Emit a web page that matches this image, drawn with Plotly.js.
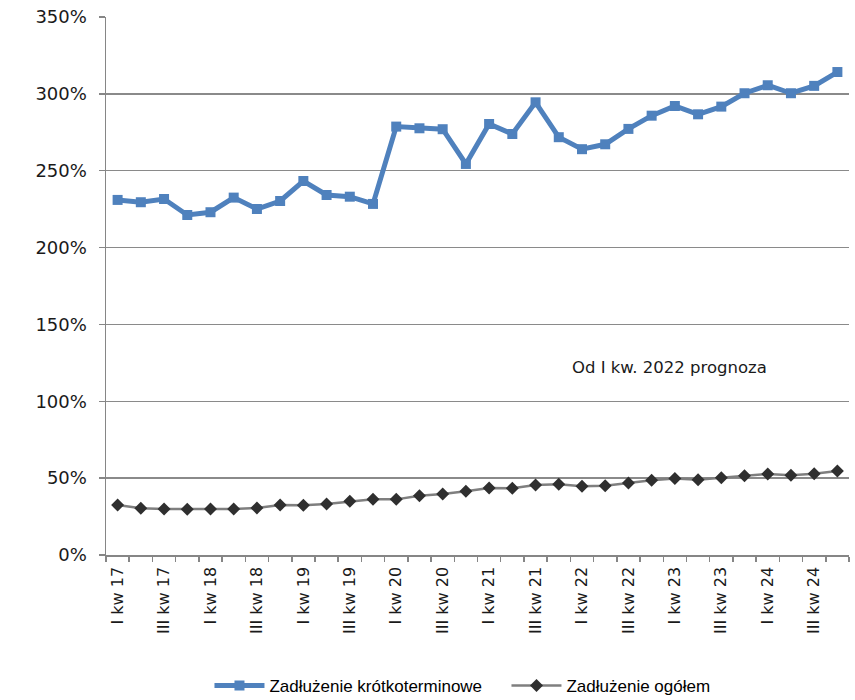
<!DOCTYPE html>
<html>
<head>
<meta charset="utf-8">
<script src="https://cdn.plot.ly/plotly-3.0.1.min.js"></script>
<style>html,body{margin:0;padding:0;background:#fff;}#chart{width:855px;height:700px;}</style>
</head>
<body>
<div id="chart"></div>
<script>
const quarters = [
  "I kw 17","II kw 17","III kw 17","IV kw 17",
  "I kw 18","II kw 18","III kw 18","IV kw 18",
  "I kw 19","II kw 19","III kw 19","IV kw 19",
  "I kw 20","II kw 20","III kw 20","IV kw 20",
  "I kw 21","II kw 21","III kw 21","IV kw 21",
  "I kw 22","II kw 22","III kw 22","IV kw 22",
  "I kw 23","II kw 23","III kw 23","IV kw 23",
  "I kw 24","II kw 24","III kw 24","IV kw 24"
];
const shortTerm = [
  231.0, 229.5, 231.6, 221.2, 223.0, 232.5, 225.1, 230.3,
  243.3, 234.2, 233.1, 228.4, 278.7, 277.6, 277.0, 254.4,
  280.4, 273.9, 294.5, 271.8, 264.0, 267.2, 277.2, 285.8,
  292.1, 286.7, 291.7, 300.4, 305.6, 300.4, 305.2, 314.2
];
const total = [
  32.5, 30.4, 29.9, 29.7, 29.9, 29.9, 30.6, 32.5,
  32.3, 33.2, 34.9, 36.2, 36.2, 38.6, 39.7, 41.4,
  43.6, 43.4, 45.5, 46.0, 44.7, 45.1, 46.8, 48.6,
  49.7, 49.0, 50.3, 51.6, 52.7, 51.9, 52.9, 54.7
];
const yTicks = [0, 50, 100, 150, 200, 250, 300, 350];
const seriesNames = ["Zadłużenie krótkoterminowe", "Zadłużenie ogółem"];
const noteText = "Od I kw. 2022 prognoza";

const xIdx = quarters.map((_, i) => i);
const labelIdx = xIdx.filter(i => i % 2 === 0);

const traces = [
  {
    x: xIdx, y: shortTerm, name: seriesNames[0], type: "scatter", mode: "lines+markers",
    line: {color: "#4f81bd", width: 5},
    marker: {symbol: "square", size: 10, color: "#4f81bd"},
    text: quarters, hovertemplate: "%{text}: %{y}%<extra></extra>"
  },
  {
    x: xIdx, y: total, name: seriesNames[1], type: "scatter", mode: "lines+markers",
    line: {color: "#7f7f7f", width: 2.5},
    marker: {symbol: "diamond", size: 10, color: "#2f2f2f"},
    text: quarters, hovertemplate: "%{text}: %{y}%<extra></extra>"
  }
];

const layout = {
  width: 855, height: 700,
  margin: {l: 106, r: 6, t: 17, b: 145},
  paper_bgcolor: "#ffffff", plot_bgcolor: "#ffffff",
  font: {family: "DejaVu Sans, Verdana, sans-serif", color: "#1a1a1a", size: 16},
  showlegend: true,
  legend: {
    orientation: "h", x: 0.245, xanchor: "left", xref: "container",
    y: 0.02, yanchor: "middle", yref: "container",
    font: {family: "Liberation Sans, Arial, sans-serif", size: 17, color: "#000"},
    itemwidth: 50, entrywidth: 232, entrywidthmode: "pixels"
  },
  xaxis: {
    range: [-0.5, quarters.length - 0.5],
    tickmode: "array",
    tickvals: labelIdx,
    ticktext: labelIdx.map(i => quarters[i]),
    tickangle: -90,
    ticks: "",
    ticklabelstandoff: 4,
    showgrid: false,
    zeroline: false,
    showline: true, linecolor: "#868686", linewidth: 1.5,
    tickfont: {family: "DejaVu Sans, Verdana, sans-serif", size: 16, color: "#1a1a1a"},
    minor: {tick0: -0.5, dtick: 1, ticks: "outside", ticklen: 5, tickcolor: "#868686", tickwidth: 1.5, showgrid: false},
    fixedrange: true
  },
  yaxis: {
    range: [0, 350],
    tickmode: "array",
    tickvals: yTicks,
    ticktext: yTicks.map(v => v + "%"),
    ticks: "outside", ticklen: 6, tickcolor: "#868686", tickwidth: 1.5,
    ticklabelstandoff: 8,
    showgrid: true, gridcolor: "#8a8a8a", gridwidth: 1.5,
    zeroline: false,
    showline: true, linecolor: "#868686", linewidth: 1.5,
    tickfont: {family: "DejaVu Sans, Verdana, sans-serif", size: 18, color: "#1a1a1a"},
    fixedrange: true
  },
  annotations: [
    {
      x: 23.75, y: 122, xref: "x", yref: "y", text: noteText, showarrow: false,
      font: {family: "DejaVu Sans, Verdana, sans-serif", size: 16.5, color: "#1a1a1a"},
      xanchor: "center", yanchor: "middle"
    }
  ]
};

Plotly.newPlot("chart", traces, layout, {displayModeBar: false, staticPlot: true});
</script>
</body>
</html>
